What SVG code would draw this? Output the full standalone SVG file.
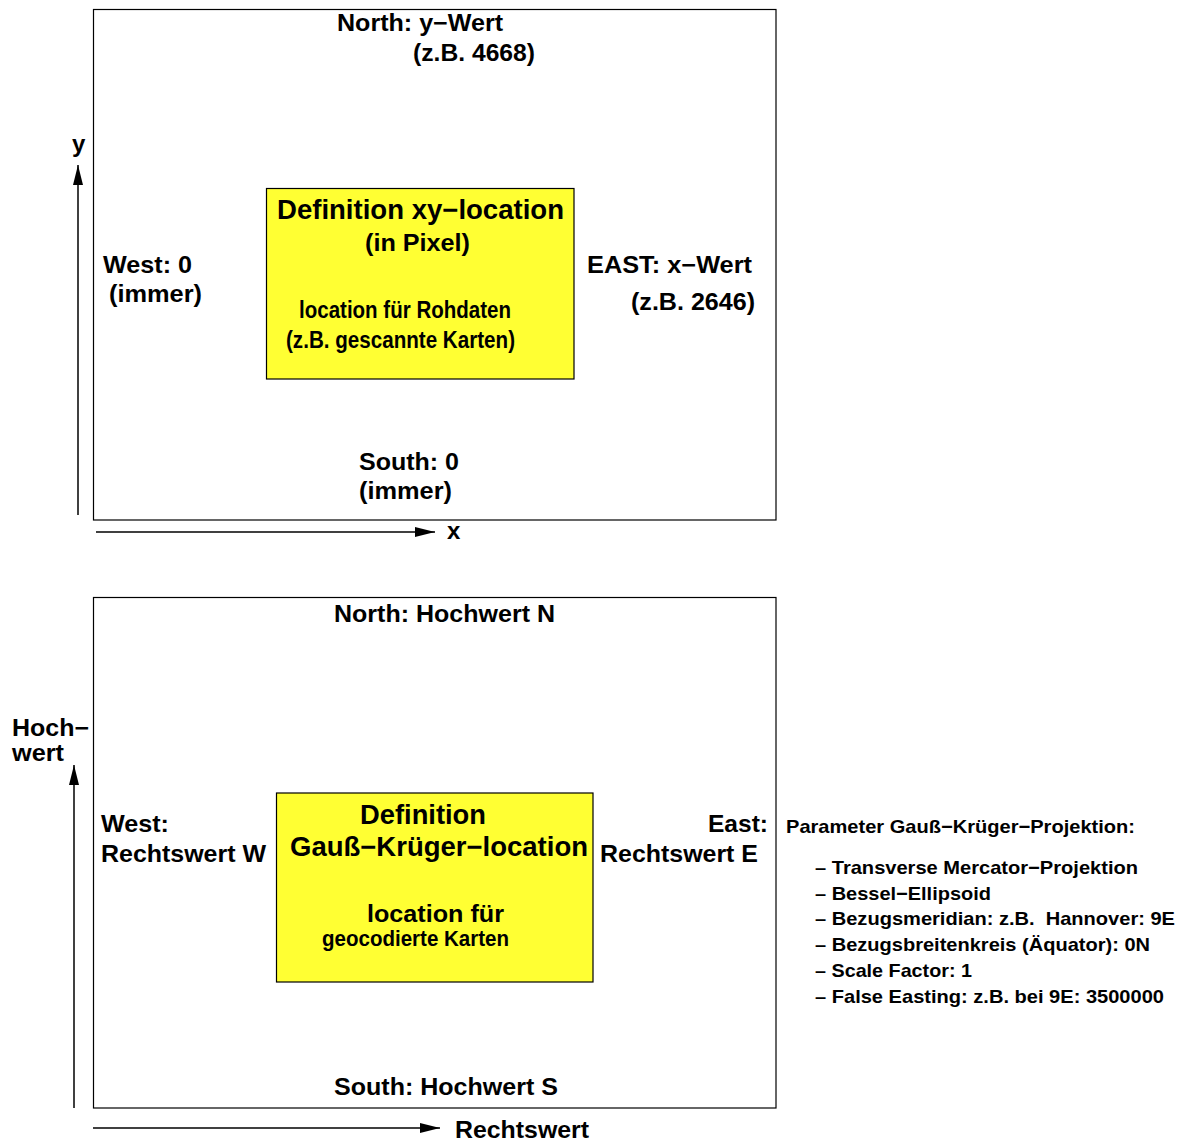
<svg xmlns="http://www.w3.org/2000/svg" width="1179" height="1142" viewBox="0 0 1179 1142">
<style>
text{font-family:"Liberation Sans",Arial,Helvetica,sans-serif;font-weight:bold;fill:#000}
.l{font-size:24px}
.h{font-size:27px}
.n{font-size:23px}
.g{font-size:22.5px}
.s{font-size:19px}
.frame{fill:none;stroke:#000;stroke-width:1.2}
.yel{fill:#ffff33;stroke:#000;stroke-width:1.2}
.ax{stroke:#000;stroke-width:1.5;fill:none;marker-end:url(#ah)}
</style>
<defs>
<marker id="ah" viewBox="0 0 20 10" refX="20" refY="5" markerWidth="20" markerHeight="10" markerUnits="userSpaceOnUse" orient="auto">
<path d="M0,0 L20,5 L0,10 Z" fill="#000"/>
</marker>
</defs>
<g id="connectors">
<line class="ax" x1="78" y1="515" x2="78" y2="165"/>
<line class="ax" x1="96" y1="532" x2="435" y2="532"/>
<line class="ax" x1="74" y1="1108" x2="74" y2="765"/>
<line class="ax" x1="93" y1="1128" x2="440" y2="1128"/>
</g>
<g id="top-frame">
<rect class="frame" x="93.5" y="9.5" width="682.5" height="510.5"/>
<text class="l" x="337" y="31" textLength="166" lengthAdjust="spacingAndGlyphs">North: y−Wert</text>
<text class="l" x="413" y="61" textLength="122" lengthAdjust="spacingAndGlyphs">(z.B. 4668)</text>
<text class="l" x="103" y="273" textLength="89" lengthAdjust="spacingAndGlyphs">West: 0</text>
<text class="l" x="109" y="302" textLength="93" lengthAdjust="spacingAndGlyphs">(immer)</text>
<text class="l" x="587" y="273" textLength="165" lengthAdjust="spacingAndGlyphs">EAST: x−Wert</text>
<text class="l" x="631" y="310" textLength="124" lengthAdjust="spacingAndGlyphs">(z.B. 2646)</text>
<text class="l" x="359" y="470" textLength="100" lengthAdjust="spacingAndGlyphs">South: 0</text>
<text class="l" x="359" y="499" textLength="93" lengthAdjust="spacingAndGlyphs">(immer)</text>
</g>
<g id="y-label"><text class="l" x="72" y="152">y</text></g>
<g id="x-label"><text class="l" x="447" y="539">x</text></g>
<g id="xy-location">
<rect class="yel" x="266.5" y="188.5" width="307.5" height="190.5"/>
<text class="h" x="277" y="219" textLength="287" lengthAdjust="spacingAndGlyphs">Definition xy−location</text>
<text class="l" x="365" y="251" textLength="105" lengthAdjust="spacingAndGlyphs">(in Pixel)</text>
<text class="n" x="299" y="318" textLength="212" lengthAdjust="spacingAndGlyphs">location für Rohdaten</text>
<text class="n" x="286" y="348" textLength="229" lengthAdjust="spacingAndGlyphs">(z.B. gescannte Karten)</text>
</g>
<g id="bottom-frame">
<rect class="frame" x="93.5" y="597.5" width="682.5" height="510.5"/>
<text class="l" x="334" y="622" textLength="221" lengthAdjust="spacingAndGlyphs">North: Hochwert N</text>
<text class="l" x="101" y="832" textLength="68" lengthAdjust="spacingAndGlyphs">West:</text>
<text class="l" x="101" y="862" textLength="165" lengthAdjust="spacingAndGlyphs">Rechtswert W</text>
<text class="l" x="708" y="832" textLength="60" lengthAdjust="spacingAndGlyphs">East:</text>
<text class="l" x="600" y="862" textLength="158" lengthAdjust="spacingAndGlyphs">Rechtswert E</text>
<text class="l" x="334" y="1095" textLength="224" lengthAdjust="spacingAndGlyphs">South: Hochwert S</text>
</g>
<g id="hochwert-label">
<text class="l" x="12" y="736" textLength="77" lengthAdjust="spacingAndGlyphs">Hoch−</text>
<text class="l" x="12" y="761" textLength="52" lengthAdjust="spacingAndGlyphs">wert</text>
</g>
<g id="rechtswert-label"><text class="l" x="455" y="1138" textLength="134" lengthAdjust="spacingAndGlyphs">Rechtswert</text></g>
<g id="gk-location">
<rect class="yel" x="276.5" y="793" width="316.5" height="189"/>
<text class="h" x="360" y="824" textLength="126" lengthAdjust="spacingAndGlyphs">Definition</text>
<text class="h" x="290" y="856" textLength="298" lengthAdjust="spacingAndGlyphs">Gauß−Krüger−location</text>
<text class="l" x="367" y="922" textLength="137" lengthAdjust="spacingAndGlyphs">location für</text>
<text class="g" x="322" y="946" textLength="187" lengthAdjust="spacingAndGlyphs">geocodierte Karten</text>
</g>
<g id="parameters">
<text class="s" x="786" y="833" textLength="349" lengthAdjust="spacingAndGlyphs">Parameter Gauß−Krüger−Projektion:</text>
<text class="s" x="815" y="874" textLength="323" lengthAdjust="spacingAndGlyphs">– Transverse Mercator−Projektion</text>
<text class="s" x="815" y="900" textLength="176" lengthAdjust="spacingAndGlyphs">– Bessel−Ellipsoid</text>
<text class="s" x="815" y="925" textLength="360" lengthAdjust="spacingAndGlyphs">– Bezugsmeridian: z.B.&#160; Hannover: 9E</text>
<text class="s" x="815" y="951" textLength="335" lengthAdjust="spacingAndGlyphs">– Bezugsbreitenkreis (Äquator): 0N</text>
<text class="s" x="815" y="977" textLength="157" lengthAdjust="spacingAndGlyphs">– Scale Factor: 1</text>
<text class="s" x="815" y="1003" textLength="349" lengthAdjust="spacingAndGlyphs">– False Easting: z.B. bei 9E: 3500000</text>
</g>
</svg>
